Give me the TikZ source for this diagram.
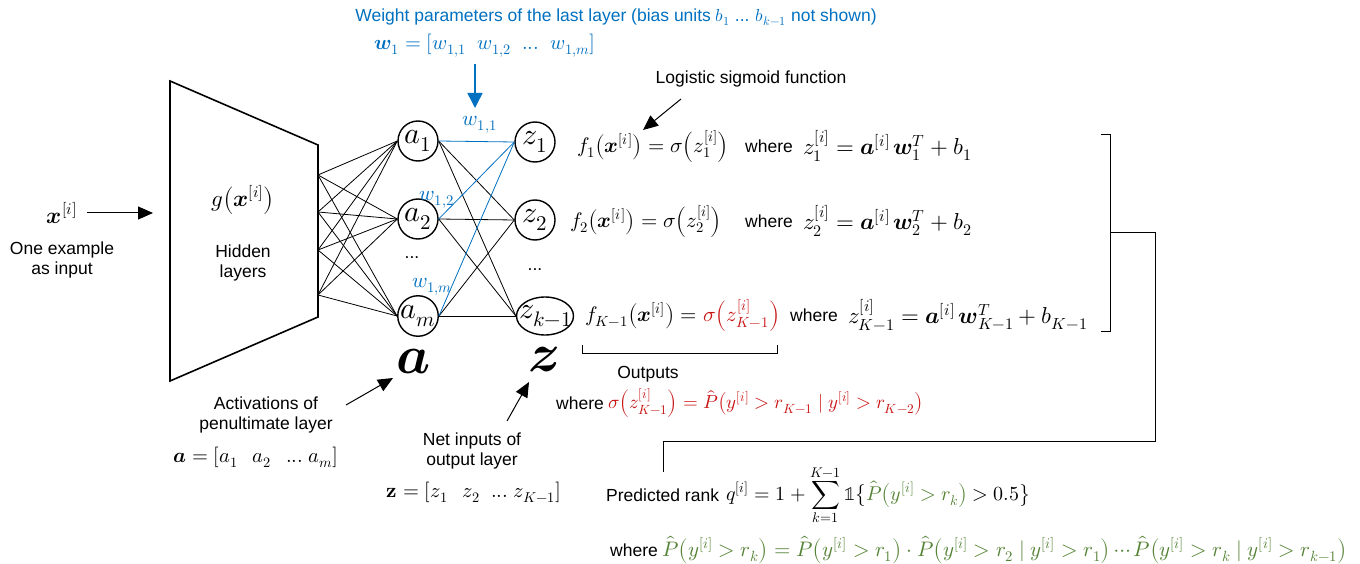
\documentclass[tikz,border=0pt]{standalone}
\usepackage{fontspec}
\usepackage{unicode-math}
\setmainfont{Liberation Sans}
\usetikzlibrary{arrows.meta,shapes.geometric}
\definecolor{wblue}{RGB}{0,112,192}
\definecolor{outred}{RGB}{200,20,20}
\definecolor{rgreen}{RGB}{84,130,53}
\newcommand\mylp[1]{{\left(#1\right)}}
\tikzset{
  lbl/.style={font=\fontsize{17.5}{20}\selectfont, align=center, inner sep=0pt},
  eqm/.style={font=\fontsize{23}{27}\selectfont, inner sep=0pt, anchor=west},
  eqf/.style={font=\fontsize{21}{25}\selectfont, inner sep=0pt, anchor=west},
  eqs/.style={font=\fontsize{20.5}{24}\selectfont, inner sep=0pt},
  neuron/.style={circle, draw, line width=1.4pt, minimum size=40pt, inner sep=0pt, font=\fontsize{30}{30}\selectfont},
  oval/.style={ellipse, draw, line width=1.4pt, minimum width=57pt, minimum height=38pt, inner sep=0pt},
  conn/.style={line width=0.8pt},
  arr/.style={line width=1pt, -{Triangle[length=15pt,width=13pt]}},
  bracket/.style={line width=1pt},
  wlab/.style={font=\fontsize{21}{22}\selectfont, text=wblue, inner sep=0pt},
}
\begin{document}
\begin{tikzpicture}[x=1pt,y=-1pt]
\useasboundingbox (0,0) rectangle (1360,564);

% title
\node[lbl, text=wblue] (title) at (616,17) {Weight parameters of the last layer (bias units $b_1$ ... $b_{k-1}$ not shown)};
\node[eqs, text=wblue] (weq) at (485,46) {$\symbfit{w}_1 = [w_{1,1}\;\; w_{1,2}\;\; ...\;\; w_{1,m}]$};
\coordinate (wtop) at (475,64);
\coordinate (wbot) at (475,108);
\draw[line width=1.5pt, wblue, -{Triangle[length=15pt,width=15pt]}] (wtop) -- (wbot);

% sigmoid label
\node[lbl] (lsf) at (751,79) {Logistic sigmoid function};
\coordinate (lsft) at (681,99);
\coordinate (sig) at (643,130);
\draw[arr] (lsft) -- (sig);

% input
\node[eqm, anchor=center] (x) at (62,213) {$\symbfit{x}^{[i]}$};
\node[lbl] (xl) at (62,260) {One example\\as input};
\coordinate (gin) at (153,213);
\draw[arr] ([xshift=10pt]x.east) -- (gin);

% hidden trapezoid
\draw[line width=1.6pt] (170,81) -- (318,145) -- (318,317) -- (170,381) -- cycle;
\node[eqm, anchor=center] (g) at (243,200) {$g\mylp{\symbfit{x}^{[i]}}$};
\node[lbl] (hid) at (243,263) {Hidden\\layers};
\coordinate (h1) at (318,175);
\coordinate (h2) at (318,212);
\coordinate (h3) at (318,250);
\coordinate (h4) at (318,295);

% neurons
\node[neuron] (a1) at (418,141) {$a_1$};
\node[neuron] (a2) at (418,219) {$a_2$};
\node[neuron] (am) at (418,316) {$a_m$};
\node[neuron] (z1) at (535,142) {$z_1$};
\node[neuron] (z2) at (535,220) {$z_2$};
\node[oval] (zk) at (545,316) {};
\node[inner sep=0pt, font=\fontsize{30}{30}\selectfont] (zkl) at (546,316) {$z_{k-1}$};

\foreach \h in {h1,h2,h3,h4}
  \foreach \a in {a1,a2,am}
    \draw[conn] (\h) -- (\a.west);
\foreach \a in {a1,a2,am}{
  \draw[conn] (\a.east) -- (z2.west);
  \draw[conn] (\a.east) -- (zk.west);
}
\foreach \a in {a1,a2,am}
  \draw[conn, wblue] (\a.east) -- (z1.west);

\node[wlab] (w11) at (480,125) {$w_{1,1}$};
\node[wlab] (w12) at (437,200) {$w_{1,2}$};
\node[wlab] (w1m) at (432,287) {$w_{1,m}$};
\node[lbl] (adots) at (412,258) {...};
\node[lbl] (zdots) at (535,270) {...};

% big a and z
\node[inner sep=0pt, font=\fontsize{54}{54}\selectfont] (biga) at (414,362) {$\symbfit{a}$};
\node[inner sep=0pt, font=\fontsize{54}{54}\selectfont] (bigz) at (544,360) {$\symbfit{z}$};

\node[lbl] (act) at (266,415) {Activations of\\penultimate layer};
\node[eqs] (aeq) at (256,457) {$\symbfit{a} = [a_1\;\;\, a_2\;\;\, ...\; a_m]$};
\coordinate (actt) at (346,405);
\coordinate (actb) at (393,378);
\draw[arr] (actt) -- (actb);

\node[lbl] (net) at (472,451) {Net inputs of\\output layer};
\node[eqs] (zeq) at (474,492) {$\symbfup{z} = [z_1\;\;\, z_2\;\; ...\; z_{K-1}]$};
\coordinate (nett) at (507,421);
\coordinate (netb) at (529,382);
\draw[arr] (nett) -- (netb);

% equations
\node[eqf] (f1) at (577,146) {$f_1\mylp{\symbfit{x}^{[i]}} = \sigma\mylp{z_1^{[i]}}$};
\node[lbl, anchor=west] (wh1) at (745,146) {where};
\node[eqm] (e1) at (803,146) {$z_1^{[i]} = \symbfit{a}^{[i]}\,\symbfit{w}_1^T + b_1$};

\node[eqf] (f2) at (570,221) {$f_2\mylp{\symbfit{x}^{[i]}} = \sigma\mylp{z_2^{[i]}}$};
\node[lbl, anchor=west] (wh2) at (745,221) {where};
\node[eqm] (e2) at (803,221) {$z_2^{[i]} = \symbfit{a}^{[i]}\,\symbfit{w}_2^T + b_2$};

\node[eqf] (f3) at (585,315) {$f_{K-1}\mylp{\symbfit{x}^{[i]}} = {\color{outred}\sigma\mylp{z_{K-1}^{[i]}}}$};
\node[lbl, anchor=west] (wh3) at (790,315) {where};
\node[eqm] (e3) at (848,315) {$z_{K-1}^{[i]} = \symbfit{a}^{[i]}\,\symbfit{w}_{K-1}^T + b_{K-1}$};

% outputs bracket
\draw[bracket] (582,345) -- (582,353) -- (777,353) -- (777,345);
\node[lbl] (outl) at (648,374) {Outputs};
\node[lbl, anchor=west] (wh4) at (556,403) {where};
\node[anchor=west, inner sep=0pt, font=\fontsize{19}{22}\selectfont, text=outred] (oeq) at (608,403) {$\sigma\mylp{z_{K-1}^{[i]}} = \hat{P}\mylp{y^{[i]} > r_{K-1} \mid y^{[i]} > r_{K-2}}$};

% right bracket
\draw[bracket] (1101,135) -- (1110,135) -- (1110,331) -- (1101,331);
\coordinate (bmid) at (1110,233);
\coordinate (rk) at (663,472);
\draw[bracket] (bmid) -- (1155,233) -- (1155,441) -- (663,441) -- (rk);

% predicted rank
\node[lbl, anchor=west] (pr) at (606,495) {Predicted rank};
\node[eqm, font=\fontsize{20}{24}\selectfont] (qeq) at (726,495) {$q^{[i]} = 1 + \displaystyle\sum_{k=1}^{K-1} \symbb{1}\bigl\{{\color{rgreen}\hat{P}\mylp{y^{[i]} > r_k}} > 0.5\bigr\}$};
\node[lbl, anchor=west] (wh5) at (610,550) {where};
\node[anchor=west, inner sep=0pt, text=rgreen, font=\fontsize{21}{24}\selectfont] (peq) at (662,550) {$\hat{P}\mylp{y^{[i]} > r_k} = \hat{P}\mylp{y^{[i]} > r_1}\cdot\hat{P}\mylp{y^{[i]} > r_2 \mid y^{[i]} > r_1}\cdots\hat{P}\mylp{y^{[i]} > r_k \mid y^{[i]} > r_{k-1}}$};
\end{tikzpicture}
\end{document}
